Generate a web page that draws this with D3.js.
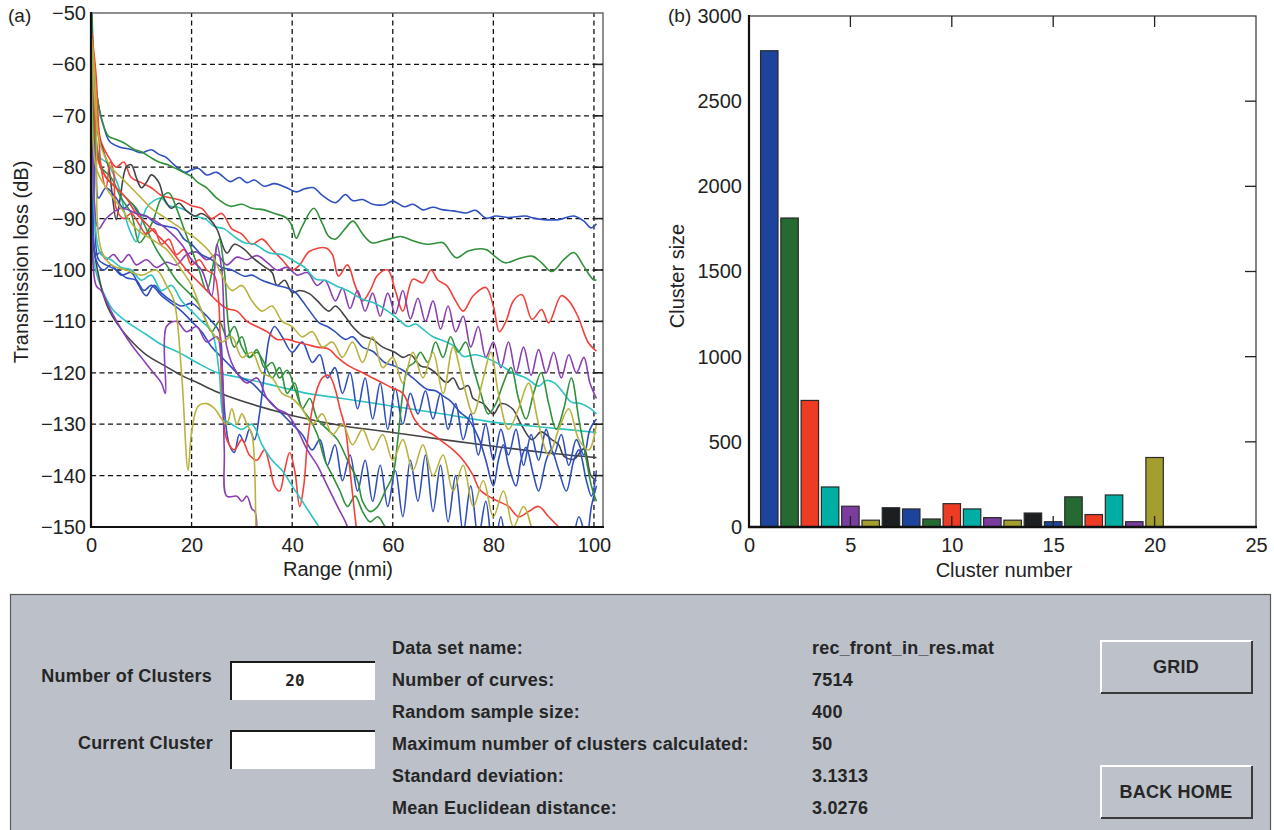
<!DOCTYPE html>
<html>
<head>
<meta charset="utf-8">
<script src="https://d3js.org/d3.v7.min.js"></script>
<style>
body, html {
  margin: 0;
  padding: 0;
  background: #fff;
  font-family: "Liberation Sans", Arial, sans-serif;
}
svg { display: block; }
.grid line {
  stroke: #111;
  stroke-width: 1.3;
  stroke-dasharray: 5, 3.5;
}
.axis path, .axis line { display: none; }
.axis text {
  font-family: "Liberation Sans", Arial, sans-serif;
  font-size: 20px;
  fill: #222;
}
.curve {
  fill: none;
  stroke-width: 1.6;
  stroke-linejoin: round;
}
.gui text {
  font-family: "Liberation Sans", Arial, sans-serif;
  font-weight: bold;
  font-size: 18px;
  letter-spacing: 0.2px;
  fill: #262626;
}
</style>
</head>
<body>
<script>

// ---------- data: panel (a), transmission loss curves [range nmi, dB] ----------
var tlBlue1 = [[0.2,-52],[0.6,-62],[1.5,-68],[2.5,-72],[3.7,-75],[5.5,-76],[8.2,-76.6],[10,-77.2],[12,-76.6],[13.5,-77.5],[14.8,-78],[16.5,-79.5],[18.7,-81],[20,-80.5],[21.3,-80.2],[23,-81.5],[25,-81],[27.7,-82.8],[29.5,-82],[31,-83],[32.5,-82.5],[34.4,-83.7],[36.5,-83.2],[38.9,-84],[40.8,-84.8],[42.5,-84.2],[44.3,-84],[46,-85.5],[48.6,-86.9],[50.6,-85.3],[52,-86.5],[54,-86.3],[56,-87.2],[58.4,-87.3],[60,-86.6],[62.3,-87.7],[64,-87.2],[66,-88.3],[68,-87.8],[70,-88.3],[72,-88.5],[74.6,-88.9],[76.5,-88.4],[78.5,-89.9],[80.5,-89.5],[83,-89.8],[86.3,-89.5],[88,-89.9],[90,-90.2],[93,-90.2],[96,-89.5],[98,-90.5],[99.4,-91.8],[100.5,-91]];
var tlGreen1 = [[0.2,-50],[0.5,-58],[1.2,-66],[2.2,-71],[3.5,-74],[5,-74.6],[6.6,-75.3],[8.5,-76.5],[10,-77],[11.7,-78],[13.5,-79],[15.5,-79.6],[18,-80.8],[20,-81.8],[21.3,-83],[23,-84],[25,-86],[27.7,-87.6],[30,-87.2],[32,-88],[34.4,-88.3],[36.5,-89],[38.9,-89.9],[40,-91.5],[40.8,-93.8],[42,-91.5],[44.3,-88],[46,-91],[47.3,-93.5],[48.6,-94],[50.5,-92],[52.1,-90.5],[54,-93],[55.8,-94.7],[58,-94.3],[60,-93.8],[61.7,-93.5],[64,-94.3],[66.8,-95],[68.5,-94.8],[70,-94.7],[72.6,-97.6],[75,-96.3],[78.5,-96],[80.5,-97.5],[82.4,-98.6],[85,-97.8],[87.7,-97.3],[89.5,-98.5],[91.6,-100.3],[94,-98],[96,-96.6],[98,-99.3],[99.8,-101.8],[100.5,-102]];
var tlRed1 = [[0.3,-56],[0.8,-66],[2,-75],[3.5,-78],[5,-80],[6.5,-79],[8,-82],[10,-83],[12,-84],[14,-85.5],[16,-86],[18,-86.5],[20,-87.5],[22,-88],[24,-90],[26,-89],[28,-92],[30,-93],[32,-95],[34,-94],[36,-96],[38,-98],[40,-100],[41.5,-99],[43.4,-96.4],[46.7,-95.7],[48,-97],[49.2,-101.2],[51,-99],[52.5,-103],[54,-106],[55.5,-104],[57,-101],[59,-100],[60.5,-104],[62,-108],[64,-101.8],[66,-102.5],[67.6,-100],[69,-102],[70.7,-103],[72.5,-106],[74,-108],[76,-105],[78.5,-103.4],[80,-107],[81.2,-112],[82.5,-110],[84,-106],[85.7,-104.8],[87.7,-109.6],[89.6,-107.7],[91,-110.3],[93.5,-105],[95,-106],[96.8,-109],[98.8,-114],[100.5,-115.8]];
var tlPurple1 = [[0.2,-55],[0.6,-80],[1,-97],[2,-96.5],[3,-98],[4.5,-97],[6,-98.5],[7.5,-97],[9,-99],[11,-98],[13,-99.5],[15,-98.5],[17,-99],[19,-97],[21,-96.5],[23,-98],[25,-97],[27,-99],[29,-97.5],[31,-98],[33,-97.2],[35,-98.5],[37,-100],[39,-99.5],[41,-101],[43,-100.5],[45,-103],[46.5,-102],[48.6,-106],[50,-103.5],[51.5,-107.5],[53,-104],[54.5,-108],[56,-104.5],[57.5,-109],[59,-104.5],[60.5,-108.5],[62,-104],[63.5,-109.5],[65,-105.5],[66.5,-110],[68,-106],[69.5,-111.5],[71,-107],[72.5,-112],[74,-109],[75.5,-115],[77,-111],[78.5,-117],[80,-114],[81.5,-119],[83,-114],[84.5,-120],[86,-115],[87.5,-120.5],[89,-115.5],[90.5,-120],[92,-116],[93.5,-121],[95,-116.5],[96.5,-120],[98,-117],[99.2,-122],[100.5,-125]];
var tlCyan1 = [[0.2,-52],[0.6,-70],[1.7,-78],[3,-79],[4.3,-81],[5.7,-84.4],[6.7,-89],[7.6,-92],[9,-94.5],[10,-91],[11,-88],[12.5,-86.5],[14,-86],[15.5,-87.5],[17,-87.7],[19,-88.5],[20.5,-89.5],[22.6,-90],[24.5,-91.5],[26.5,-92],[28.5,-93.5],[30.5,-94.7],[32.5,-95],[35.5,-96.7],[38,-97],[40.8,-98.5],[42.5,-99.5],[44.7,-101.8],[46.5,-102],[48.6,-103],[51,-104],[54,-105.7],[56.5,-106.5],[59,-108],[61,-109.5],[63,-111],[64.5,-110.5],[66,-111.5],[68,-113],[70.7,-114],[72.5,-115],[74,-116.8],[76.5,-116.5],[79.3,-117.4],[81.5,-118.5],[83.8,-120],[86.5,-121],[89,-122.6],[90.5,-121.5],[92.2,-122],[94,-124],[95.5,-125.7],[97.5,-126],[99.4,-127],[100.5,-128]];
var tlCyan2 = [[0.2,-70],[0.5,-98],[1.5,-102],[3,-105.5],[4.3,-107.7],[7,-110],[10.9,-112.5],[14,-114.5],[17.4,-116],[21,-118],[25.2,-120],[30,-121],[36.9,-122.6],[43,-124],[50,-125],[60,-126.5],[70,-128],[80,-129.6],[90,-130.6],[100.5,-131.6]];
var tlGray1 = [[0.2,-55],[0.7,-68],[1.5,-74],[2.5,-77],[3.5,-80],[4.3,-86],[5,-90.2],[5.8,-86],[7,-80],[8,-79.5],[9,-82],[10,-84],[11,-83],[12,-81.5],[13.5,-83],[14.5,-86],[16,-88],[17.5,-87],[19,-88.5],[20.7,-89.5],[22,-89],[23.5,-90],[25,-92],[27,-96.7],[28.5,-95],[30.5,-96],[32,-97.5],[34.4,-99.3],[36,-100.5],[37,-103],[38.5,-102],[40,-104.4],[41.5,-104],[43.4,-104.6],[45,-106],[47.3,-108],[48.6,-107],[50.5,-109],[52,-111],[54,-112.8],[56,-113.5],[58,-115],[60.4,-116],[62,-117],[63.5,-116.5],[65.6,-118.7],[67,-119],[68.5,-120],[70.7,-121.9],[72,-121],[73.4,-123.2],[75,-122.5],[76,-125],[78,-126],[80,-128],[81.5,-126],[83.8,-127],[85.5,-130],[87.7,-133],[89.5,-131.5],[91.6,-133],[93,-134],[94,-136.2],[96,-136.8],[98,-134.8],[99.4,-140],[100.5,-141]];
var tlGray2 = [[0.2,-60],[0.5,-95],[1.5,-101],[2.5,-105],[3.7,-108],[6,-111.5],[8.2,-114],[11,-116.5],[14.8,-118.7],[18,-120.5],[21.3,-122],[25.2,-123.8],[30,-125.5],[36.9,-127.5],[40.8,-128.5],[50,-130.3],[60,-131.6],[70,-133],[80,-134.3],[90,-135.5],[100.5,-136.5]];
var tlBlue2 = [[0.2,-54],[0.5,-62],[1,-80],[1.5,-86],[3,-84],[5,-86],[6.5,-88],[8,-87],[9.5,-89],[11,-89.5],[13,-91],[15,-91.5],[17,-92],[18.5,-94],[20,-95],[22,-97],[24,-98],[26,-99.5],[28,-100],[30.5,-101.2],[32,-101],[34,-102],[37,-103],[39,-103.5],[40.8,-104.5],[42,-106],[43.5,-108],[45.4,-110.3],[47,-111],[48.5,-112],[50.6,-113.5],[52,-113],[54,-115],[56,-115.8],[58.4,-118],[60.4,-118.7],[62,-119.5],[64,-121],[66.8,-123.2],[68.5,-123.5],[70,-124.5],[71.5,-125.5],[73.4,-127.7],[75,-129],[77.2,-133],[78.5,-137],[80,-142],[81,-137],[82,-134],[83,-138],[84.5,-142],[85.5,-137],[86.5,-134.5],[88,-140],[89,-143],[90.5,-137],[91.5,-135],[93,-139],[94.5,-143],[96,-137],[97,-135],[98.5,-141],[99.5,-144],[100.5,-139]];
var tlBlue3 = [[0.2,-53],[0.6,-75],[1,-98],[2.5,-100],[4,-99],[6,-101],[8,-100.5],[9.5,-103],[11,-105],[12.5,-103],[14,-104.5],[16,-106],[18,-107],[20,-106.5],[22,-108],[24,-110],[25.5,-112],[26.2,-122],[26.8,-130],[27.5,-134],[28.5,-135.5],[29.5,-132],[30.5,-133.5],[31.5,-131],[32.5,-133],[33.5,-128],[34.5,-120],[35.5,-113],[36.5,-111],[38,-113],[40,-116],[42,-114],[44,-118],[45.5,-116.5],[47,-121],[48.5,-119],[50,-124],[51.5,-120],[53,-127],[54.5,-121],[56,-129],[57.5,-122],[59,-131],[60.5,-123],[62,-130],[63.5,-124],[65,-128],[66.5,-123.5],[68,-129],[69.5,-124],[71,-131],[72.5,-126],[74,-133],[75.5,-128],[77,-136],[78.5,-130],[80,-137],[81.5,-131],[83,-136],[84.5,-131],[86,-138],[87.5,-132],[89,-137],[90.5,-131],[92,-136],[93.5,-132],[95,-138],[96.5,-133],[98,-136],[99.2,-131],[100.5,-129]];
var tlBlue4 = [[0.2,-56],[0.8,-90],[1.5,-98],[3,-99],[5,-100],[7,-101.5],[9,-102],[10.5,-104],[12,-103],[14,-105],[16,-106.5],[18,-108],[20,-110],[22,-112],[24,-115],[26,-117],[28,-119],[30,-121],[32,-122],[34,-124],[36,-126],[38,-128],[40,-130],[42,-132],[44,-135],[45.5,-133],[47,-138],[48.5,-134],[50,-141],[51.5,-136],[53,-143],[54.5,-137],[56,-145],[57.5,-138],[59,-146],[60.5,-139],[62,-148],[63.5,-137],[65,-145],[66.5,-136],[68,-147],[69.5,-138],[71,-149],[72.5,-140],[74,-151],[75.5,-142],[77,-152],[78.5,-145],[80,-155],[81.5,-148],[83,-156],[85,-150],[87,-155],[89,-151],[91,-156],[93,-150],[95,-156],[97,-148],[98.5,-152],[99.5,-146],[100.5,-142]];
var tlGreen2 = [[0.2,-55],[0.8,-75],[2,-80],[4,-82],[6,-86],[8,-89],[9.6,-94.7],[11,-93],[12.5,-90],[14,-86],[15.5,-85],[17,-88],[18.5,-92],[20,-96],[21.5,-100],[23,-104],[24.5,-98],[25.5,-94],[26.5,-100],[27.5,-112],[28.5,-115],[30,-113],[31.5,-117],[33,-116],[34.4,-118],[36,-121],[37.5,-119],[39,-124],[40.5,-122],[42,-127],[43.5,-125],[45,-129],[47,-131],[49,-133],[51,-137],[53,-141],[54,-145],[55.5,-147],[57,-146],[58.5,-143],[60,-140],[61,-133],[62,-124],[63,-119],[64.3,-118],[65.5,-116],[67,-118],[68.5,-114],[70,-117],[71.5,-113],[73,-116],[74.5,-114],[76,-119],[77.5,-124],[79,-128],[80.5,-126],[82,-122],[83.5,-119],[85,-125],[86.5,-129],[88,-124],[89.5,-120],[91,-126],[92.5,-131],[94,-127],[95.5,-121],[97,-129],[98.5,-137],[99.5,-142],[100.5,-145]];
var tlGreen3 = [[0.2,-52],[0.5,-65],[1.5,-78],[3,-82],[5,-84],[7,-86],[9,-88],[11,-92],[13,-96],[15,-99],[17,-102],[19,-104],[21,-106],[22.5,-109],[24,-112],[25.5,-110],[27,-113],[28.5,-111],[30,-115],[31.5,-117],[33,-115.5],[34.5,-119],[36,-118],[37.5,-121],[39,-119.5],[40.5,-123],[42,-127],[43.5,-129],[45,-132],[46.5,-137],[48,-140],[49.5,-143],[51,-146],[52.5,-144],[54,-147],[55.5,-149],[57,-148],[58.5,-150],[60,-152]];
var tlRed2 = [[0.2,-54],[0.5,-57],[1,-62],[1.5,-72],[2,-80],[3,-84],[3.8,-79],[4.5,-81],[5,-88],[6.5,-90],[8,-89],[9.5,-91],[11,-93],[12.5,-92],[14,-95],[15.5,-94],[17,-97],[18.5,-96],[20,-99],[21.5,-98],[23,-100],[24.5,-101],[25.3,-105],[25.8,-118],[26.3,-129],[27,-133],[28.5,-135],[30,-133],[31.5,-136],[33,-137],[34.5,-135],[35.5,-138],[36.5,-142],[37.5,-143],[38.5,-139],[39.5,-135.5],[40.5,-139],[41.5,-146],[42.3,-142],[43.2,-132],[44.7,-124],[46,-121],[47.3,-120.5],[48.5,-123],[49.5,-127],[50.6,-131],[51.5,-139],[52.5,-148],[53.5,-156]];
var tlRed3 = [[0.2,-55],[0.5,-63],[1,-75],[1.5,-79],[3,-82],[5,-84],[7,-86],[9,-89],[11,-91],[13,-93],[15,-95],[17,-97.5],[19,-100],[21,-102],[23,-104],[25,-106],[27,-107.5],[29,-108],[31,-110],[33,-111],[35,-112],[37,-113.5],[39,-113.5],[40.8,-114],[43,-114.5],[45,-115],[47.3,-115.4],[49,-117],[51,-118.5],[54,-120],[56,-121],[58,-122],[60,-123],[62,-124],[64.3,-129],[66,-131],[68,-132],[70,-133.5],[72,-135],[74,-137],[76,-140],[77.2,-142.6],[79,-144],[81,-145],[83,-146],[85,-148],[87,-147],[89,-146],[91,-148],[93,-150],[95,-152]];
var tlCyan3 = [[0.2,-62],[1,-93],[2,-97],[4,-98],[6,-99.5],[8,-100],[10,-102],[12,-101],[14,-104],[16,-103],[18,-106],[20,-108],[22,-110],[24,-112],[25.5,-120],[26.5,-129],[28,-130],[30,-131],[32,-130],[34,-134],[36,-137],[38,-139],[40,-142],[42,-145],[44,-148],[46,-151]];
var tlPurple2 = [[0.2,-60],[1,-103],[2,-104],[4,-108],[6,-111.5],[8,-114.5],[10,-117],[12,-119.5],[14,-122],[14.8,-124],[15,-111],[17,-110],[19,-112],[21,-111],[23,-114],[25,-113],[26,-118],[26.5,-135],[27,-144],[29,-144],[30,-145],[31,-144],[32,-146.5],[32.6,-147],[33,-152]];
var tlPurple3 = [[0.2,-56],[1.5,-92],[3,-90],[6,-88],[9,-89],[12,-90],[15,-92],[18,-95],[20,-98],[22,-100],[24,-105],[25,-95],[26,-100],[27,-115],[29,-120],[31,-122],[33,-121],[35,-125],[37,-127],[39,-128],[41,-131],[43,-135],[45,-138],[47,-142],[49,-146],[51,-150],[52,-155]];
var tlOlive1 = [[0.2,-55],[1,-66],[2,-96],[4,-99],[7,-100],[10,-101],[13,-100],[15,-103],[16.5,-106],[18,-120],[19.3,-139],[20,-131.6],[21.3,-126.5],[23,-126],[24.6,-127],[26,-129],[27,-130],[28,-127],[29,-130],[30,-128],[31,-130],[32,-132],[32.8,-150],[33,-155]];
var tlOlive2 = [[0.2,-56],[1,-70],[2,-76],[4,-80],[6,-82],[8,-84],[10,-86],[12,-88],[15,-90],[18,-92],[21,-94],[24,-97],[26,-101],[28,-104],[30,-103],[32,-106],[34,-108],[36,-107],[38,-110],[40,-111],[42,-113],[44,-112],[46,-115],[48,-114],[50,-117],[52,-114],[54,-118],[56,-113],[58,-119],[60,-117],[62,-122],[64,-116],[66,-121],[68,-116],[70,-124],[72,-115],[74,-122],[76,-128],[78,-121],[79.5,-116],[81,-124],[83,-131],[85,-127],[87,-122],[89,-130],[91,-136],[93,-131],[95,-127],[97,-133],[99,-135],[100.5,-130]];
var tlOlive3 = [[0.2,-57],[1,-80],[3,-84],[6,-88],[9,-92],[12,-94],[15,-96],[18,-100],[20,-103],[22,-108],[24,-112],[26,-114],[28,-113],[30,-117],[32,-116],[34,-120],[36,-121],[38,-124],[40,-125],[42,-127],[44,-130],[46,-128],[48,-132],[50,-130],[52,-134],[54,-131],[56,-135],[58,-132],[60,-137],[62,-133],[64,-139],[66,-134],[68,-140],[70,-136],[72,-143],[74,-138],[76,-146],[78,-141],[80,-148],[82,-143],[84,-150],[86,-146],[88,-152]];

var rangeTicks = [0, 20, 40, 60, 80, 100];
var lossTicks = [-150, -140, -130, -120, -110, -100, -90, -80, -70, -60, -50];

// ---------- data: panel (b), cluster sizes ----------
var clusterNumbers = [1, 2, 3, 4, 5, 6, 7, 8, 9, 10, 11, 12, 13, 14, 15, 16, 17, 18, 19, 20];
var clusterSizes = [2796, 1814, 743, 235, 122, 40, 113, 106, 47, 137, 106, 55, 40, 82, 31, 177, 73, 188, 31, 408];
var clusterTicks = [0, 5, 10, 15, 20, 25];
var sizeTicks = [0, 500, 1000, 1500, 2000, 2500, 3000];

// ---------- data: control panel ----------
var infoLabels = ["Data set name:", "Number of curves:", "Random sample size:",
  "Maximum number of clusters calculated:", "Standard deviation:", "Mean Euclidean distance:"];
var infoValues = ["rec_front_in_res.mat", "7514", "400", "50", "3.1313", "3.0276"];

// ---------- drawing ----------
var svg = d3.select('body').append('svg')
  .attr('width', 1274)
  .attr('height', 830);

var col = {
  blue: '#2f4fbf', green: '#30903c', red: '#f4403a', cyan: '#2cc4c2',
  purple: '#8a3fb4', olive: '#b9b23e', gray: '#444'
};

// panel (a)
var xA = d3.scaleLinear().domain([0, 101.8]).range([91, 603]);
var yA = d3.scaleLinear().domain([-150, -50]).range([527, 13]);

var gA = svg.append('g');

gA.append('clipPath').attr('id', 'clipA')
  .append('rect')
  .attr('x', xA(0)).attr('y', yA(-50))
  .attr('width', xA(101.8) - xA(0)).attr('height', yA(-150) - yA(-50));

var gridA = gA.append('g').attr('class', 'grid');
gridA.selectAll('.gx').data(rangeTicks.filter(function(d) { return d > 0; }))
  .enter().append('line')
  .attr('x1', function(d) { return xA(d); }).attr('x2', function(d) { return xA(d); })
  .attr('y1', yA(-150)).attr('y2', yA(-50));
gridA.selectAll('.gy').data(lossTicks.filter(function(d) { return d > -150 && d < -50; }))
  .enter().append('line')
  .attr('y1', function(d) { return yA(d); }).attr('y2', function(d) { return yA(d); })
  .attr('x1', xA(0)).attr('x2', xA(101.8));

var curves = [
  [tlBlue1, col.blue], [tlGreen1, col.green], [tlRed1, col.red], [tlPurple1, col.purple],
  [tlCyan1, col.cyan], [tlGray1, col.gray], [tlCyan2, col.cyan], [tlGray2, col.gray],
  [tlBlue2, col.blue], [tlBlue3, col.blue], [tlBlue4, col.blue], [tlGreen2, col.green],
  [tlGreen3, col.green], [tlRed2, col.red], [tlRed3, col.red], [tlCyan3, col.cyan],
  [tlPurple2, col.purple], [tlPurple3, col.purple], [tlOlive1, col.olive],
  [tlOlive2, col.olive], [tlOlive3, col.olive]
];

var line = d3.line()
  .x(function(d) { return xA(d[0]); })
  .y(function(d) { return yA(d[1]); })
  .curve(d3.curveCatmullRom.alpha(0.5));

gA.append('g').attr('clip-path', 'url(#clipA)')
  .selectAll('path').data(curves).enter().append('path')
  .attr('class', 'curve')
  .attr('stroke', function(d) { return d[1]; })
  .attr('d', function(d) { return line(d[0]); });

// frame
gA.append('rect')
  .attr('x', xA(0)).attr('y', yA(-50))
  .attr('width', xA(101.8) - xA(0)).attr('height', yA(-150) - yA(-50))
  .attr('fill', 'none').attr('stroke', '#555').attr('stroke-width', 1.3);
gA.selectAll('.rt').data(lossTicks.filter(function(d) { return d > -150 && d < -50; }))
  .enter().append('line')
  .attr('x1', xA(101.8) - 8).attr('x2', xA(101.8))
  .attr('y1', function(d) { return yA(d); }).attr('y2', function(d) { return yA(d); })
  .attr('stroke', '#222').attr('stroke-width', 1.6);
gA.append('line').attr('x1', xA(0)).attr('x2', xA(0)).attr('y1', yA(-50) - 1).attr('y2', yA(-150) + 1)
  .attr('stroke', '#111').attr('stroke-width', 2.2);
gA.append('line').attr('x1', xA(0) - 1).attr('x2', xA(101.8) + 1).attr('y1', yA(-150)).attr('y2', yA(-150))
  .attr('stroke', '#111').attr('stroke-width', 2.2);

gA.append('g').attr('class', 'axis')
  .attr('transform', 'translate(0,' + yA(-150) + ')')
  .call(d3.axisBottom(xA).tickValues(rangeTicks).tickSize(0).tickPadding(11));
gA.append('g').attr('class', 'axis')
  .attr('transform', 'translate(' + xA(0) + ',0)')
  .call(d3.axisLeft(yA).tickValues(lossTicks).tickSize(0).tickPadding(5));

gA.append('text').attr('x', 338).attr('y', 576).attr('text-anchor', 'middle')
  .attr('font-size', 20).attr('fill', '#222').text('Range (nmi)');
gA.append('text').attr('transform', 'translate(28,262) rotate(-90)').attr('text-anchor', 'middle')
  .attr('font-size', 20).attr('fill', '#222').text('Transmission loss (dB)');
gA.append('text').attr('x', 8).attr('y', 22)
  .attr('font-size', 19).attr('fill', '#222').text('(a)');

// panel (b)
var xB = d3.scaleLinear().domain([0, 25]).range([749, 1256]);
var yB = d3.scaleLinear().domain([0, 3000]).range([527, 16]);
var gB = svg.append('g');
var barColors = ['#1c449c', '#246a31', '#ee3b24', '#00aea4', '#7a3d9d', '#a39e2e', '#1c1f22'];

gB.selectAll('rect.bar').data(clusterSizes).enter().append('rect')
  .attr('class', 'bar')
  .attr('x', function(d, i) { return xB(clusterNumbers[i] - 0.43); })
  .attr('width', xB(0.86) - xB(0))
  .attr('y', function(d) { return yB(d); })
  .attr('height', function(d) { return yB(0) - yB(d); })
  .attr('fill', function(d, i) { return barColors[i % barColors.length]; })
  .attr('stroke', '#2a2a2a').attr('stroke-width', 1.2);

gB.append('rect')
  .attr('x', xB(0)).attr('y', yB(3000))
  .attr('width', xB(25) - xB(0)).attr('height', yB(0) - yB(3000))
  .attr('fill', 'none').attr('stroke', '#333').attr('stroke-width', 1.2);
// inward ticks: right, top, bottom
gB.selectAll('.rt').data(sizeTicks.filter(function(d) { return d > 0 && d < 3000; }))
  .enter().append('line')
  .attr('x1', xB(25) - 11).attr('x2', xB(25))
  .attr('y1', function(d) { return yB(d); }).attr('y2', function(d) { return yB(d); })
  .attr('stroke', '#222').attr('stroke-width', 1.3);
gB.selectAll('.tt').data(clusterTicks.filter(function(d) { return d > 0 && d < 25; }))
  .enter().append('line')
  .attr('x1', function(d) { return xB(d); }).attr('x2', function(d) { return xB(d); })
  .attr('y1', yB(3000)).attr('y2', yB(3000) + 11)
  .attr('stroke', '#222').attr('stroke-width', 1.3);
gB.selectAll('.bt').data(clusterTicks.filter(function(d) { return d > 0 && d < 25; }))
  .enter().append('line')
  .attr('x1', function(d) { return xB(d); }).attr('x2', function(d) { return xB(d); })
  .attr('y1', yB(0)).attr('y2', yB(0) - 11)
  .attr('stroke', '#222').attr('stroke-width', 1.3);
gB.append('line').attr('x1', xB(0)).attr('x2', xB(0)).attr('y1', yB(3000) - 1).attr('y2', yB(0) + 1)
  .attr('stroke', '#111').attr('stroke-width', 2.2);
gB.append('line').attr('x1', xB(0) - 1).attr('x2', xB(25) + 1).attr('y1', yB(0)).attr('y2', yB(0))
  .attr('stroke', '#111').attr('stroke-width', 2.4);

gB.append('g').attr('class', 'axis')
  .attr('transform', 'translate(0,' + yB(0) + ')')
  .call(d3.axisBottom(xB).tickValues(clusterTicks).tickSize(0).tickPadding(11));
gB.append('g').attr('class', 'axis')
  .attr('transform', 'translate(' + xB(0) + ',0)')
  .call(d3.axisLeft(yB).tickValues(sizeTicks).tickSize(0).tickPadding(7).tickFormat(d3.format('d')));

gB.append('text').attr('x', 1004).attr('y', 577).attr('text-anchor', 'middle')
  .attr('font-size', 20).attr('fill', '#222').text('Cluster number');
gB.append('text').attr('transform', 'translate(684,276) rotate(-90)').attr('text-anchor', 'middle')
  .attr('font-size', 20).attr('fill', '#222').text('Cluster size');
gB.append('text').attr('x', 668).attr('y', 22)
  .attr('font-size', 19).attr('fill', '#222').text('(b)');

// control panel
var gui = svg.append('g').attr('class', 'gui');
gui.append('rect').attr('x', 10.5).attr('y', 594.5).attr('width', 1260).attr('height', 240)
  .attr('fill', '#bbc0c9').attr('stroke', '#5a5a5a').attr('stroke-width', 1.2);

gui.append('text').attr('x', 212).attr('y', 682).attr('text-anchor', 'end').text('Number of Clusters');
gui.append('text').attr('x', 213).attr('y', 749).attr('text-anchor', 'end').text('Current Cluster');

[[661, '20'], [730, '']].forEach(function(b) {
  gui.append('rect').attr('x', 230).attr('y', b[0]).attr('width', 145).attr('height', 39).attr('fill', '#fff');
  gui.append('path').attr('d', 'M231,' + (b[0] + 39) + 'V' + (b[0] + 1) + 'H375')
    .attr('fill', 'none').attr('stroke', '#1a1a1a').attr('stroke-width', 2);
  gui.append('text').attr('x', 295).attr('y', b[0] + 25).attr('text-anchor', 'middle')
    .style('font-family', '"DejaVu Sans Mono", monospace').style('font-size', '16px').text(b[1]);
});

gui.selectAll('text.lab').data(infoLabels).enter().append('text')
  .attr('class', 'lab')
  .attr('x', 392).attr('y', function(d, i) { return 654 + i * 32; })
  .text(function(d) { return d; });
gui.selectAll('text.val').data(infoValues).enter().append('text')
  .attr('class', 'val')
  .attr('x', 812).attr('y', function(d, i) { return 654 + i * 32; })
  .text(function(d) { return d; });

[[640, 'GRID'], [765, 'BACK HOME']].forEach(function(b) {
  gui.append('rect').attr('x', 1100).attr('y', b[0]).attr('width', 152).attr('height', 53).attr('fill', '#bcc1ca');
  gui.append('path').attr('d', 'M1101,' + (b[0] + 53) + 'V' + (b[0] + 1) + 'H1252')
    .attr('fill', 'none').attr('stroke', '#fff').attr('stroke-width', 2);
  gui.append('path').attr('d', 'M1101,' + (b[0] + 53) + 'H1252V' + (b[0] + 1))
    .attr('fill', 'none').attr('stroke', '#3a3a3a').attr('stroke-width', 2);
  gui.append('text').attr('x', 1176).attr('y', b[0] + 33).attr('text-anchor', 'middle').text(b[1]);
});

</script>
</body>
</html>
